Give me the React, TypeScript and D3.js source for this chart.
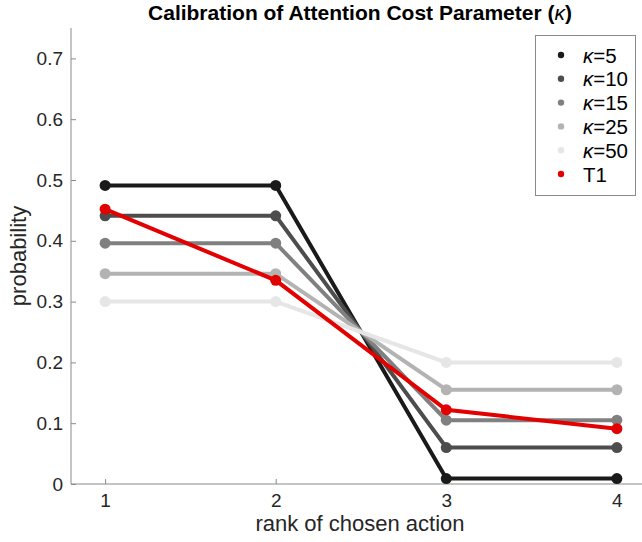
import React, { useEffect, useRef } from 'react';
import * as d3 from 'd3';

const ranks = [1, 2, 3, 4];
const seriesNames = ['5', '10', '15', '25', '50', 'T1'];
const k5 = [0.491, 0.491, 0.009, 0.009];
const k10 = [0.441, 0.441, 0.06, 0.06];
const k15 = [0.396, 0.396, 0.105, 0.105];
const k25 = [0.346, 0.346, 0.155, 0.155];
const k50 = [0.3, 0.3, 0.2, 0.2];
const t1 = [0.452, 0.335, 0.122, 0.091];
const yTicks = [0, 0.1, 0.2, 0.3, 0.4, 0.5, 0.6, 0.7];

const colors = ['#1a1a1a', '#4d4d4d', '#808080', '#b3b3b3', '#e6e6e6', '#e30000'];
const font = 'Liberation Sans, Arial, Helvetica, sans-serif';

const App = () => {
  const svgRef = useRef<SVGSVGElement>(null);

  useEffect(() => {
    const svg = d3.select(svgRef.current);
    svg.selectAll('*').remove();

    const values = [k5, k10, k15, k25, k50, t1];
    const x = d3.scaleLinear().domain([0.8, 4.2]).range([71, 651]);
    const y = d3.scaleLinear().domain([0, 0.75]).range([484, 28]);

    // title
    const title = svg.append('text')
      .attr('x', 360)
      .attr('y', 20)
      .attr('text-anchor', 'middle')
      .attr('font-family', font)
      .attr('font-weight', 'bold')
      .attr('font-size', 21)
      .attr('fill', '#000');
    title.append('tspan').text('Calibration of Attention Cost Parameter (');
    title.append('tspan').attr('font-style', 'italic').attr('font-weight', 'normal').text('κ');
    title.append('tspan').text(')');

    // axes
    const axisColor = '#8a8a8a';
    const yAxis = svg.append('g')
      .attr('transform', `translate(${x(0.8)},0)`)
      .call(d3.axisRight(y).tickValues(yTicks).tickSize(5).tickFormat(d => (d === 0 ? '0' : d3.format('.1f')(d as number))));
    yAxis.select('.domain').attr('d', `M0,${y(0.75)}V${y(0)}`).attr('stroke', axisColor);
    yAxis.selectAll('.tick line').attr('stroke', axisColor);
    yAxis.selectAll('.tick text')
      .attr('x', -8)
      .attr('text-anchor', 'end')
      .attr('font-family', font)
      .attr('font-size', 19)
      .attr('fill', '#262626');

    const xAxis = svg.append('g')
      .attr('transform', `translate(0,${y(0)})`)
      .call(d3.axisTop(x).tickValues(ranks).tickSize(5).tickFormat(d3.format('d')));
    xAxis.select('.domain').attr('d', `M${x(0.8)},0H${x(4.2)}`).attr('stroke', axisColor);
    xAxis.selectAll('.tick line').attr('stroke', axisColor);
    xAxis.selectAll('.tick text')
      .attr('y', 23)
      .attr('font-family', font)
      .attr('font-size', 19)
      .attr('fill', '#262626');

    // axis labels
    svg.append('text')
      .attr('x', 360)
      .attr('y', 531)
      .attr('text-anchor', 'middle')
      .attr('font-family', font)
      .attr('font-size', 22)
      .attr('fill', '#262626')
      .text('rank of chosen action');

    svg.append('text')
      .attr('transform', 'translate(26,256) rotate(-90)')
      .attr('text-anchor', 'middle')
      .attr('font-family', font)
      .attr('font-size', 22)
      .attr('fill', '#262626')
      .text('probability');

    // lines + markers
    const line = d3.line<number>()
      .x((d, i) => x(ranks[i]))
      .y(d => y(d));

    values.forEach((vals, si) => {
      const g = svg.append('g');
      g.append('path')
        .attr('d', line(vals))
        .attr('fill', 'none')
        .attr('stroke', colors[si])
        .attr('stroke-width', 4);
      g.selectAll('circle')
        .data(vals)
        .enter()
        .append('circle')
        .attr('cx', (d, i) => x(ranks[i]))
        .attr('cy', d => y(d))
        .attr('r', 5.5)
        .attr('fill', colors[si]);
    });

    // legend
    const lg = svg.append('g');
    lg.append('rect')
      .attr('x', 535.5)
      .attr('y', 35.5)
      .attr('width', 100)
      .attr('height', 160)
      .attr('fill', '#fff')
      .attr('stroke', '#8a8a8a');
    seriesNames.forEach((name, i) => {
      const cy = 55 + i * 23.8;
      lg.append('circle')
        .attr('cx', 561)
        .attr('cy', cy)
        .attr('r', 3.2)
        .attr('fill', colors[i]);
      const t = lg.append('text')
        .attr('x', 583)
        .attr('y', cy + 7.5)
        .attr('font-family', font)
        .attr('font-size', 20.5)
        .attr('fill', '#000');
      if (name === 'T1') {
        t.text('T1');
      } else {
        t.append('tspan').attr('font-style', 'italic').text('κ');
        t.append('tspan').text('=' + name);
      }
    });
  }, []);

  return (
    <svg
      ref={svgRef}
      width={642}
      height={542}
      style={{ position: 'absolute', left: 0, top: 0, background: '#fff' }}
    />
  );
};

export default App;
